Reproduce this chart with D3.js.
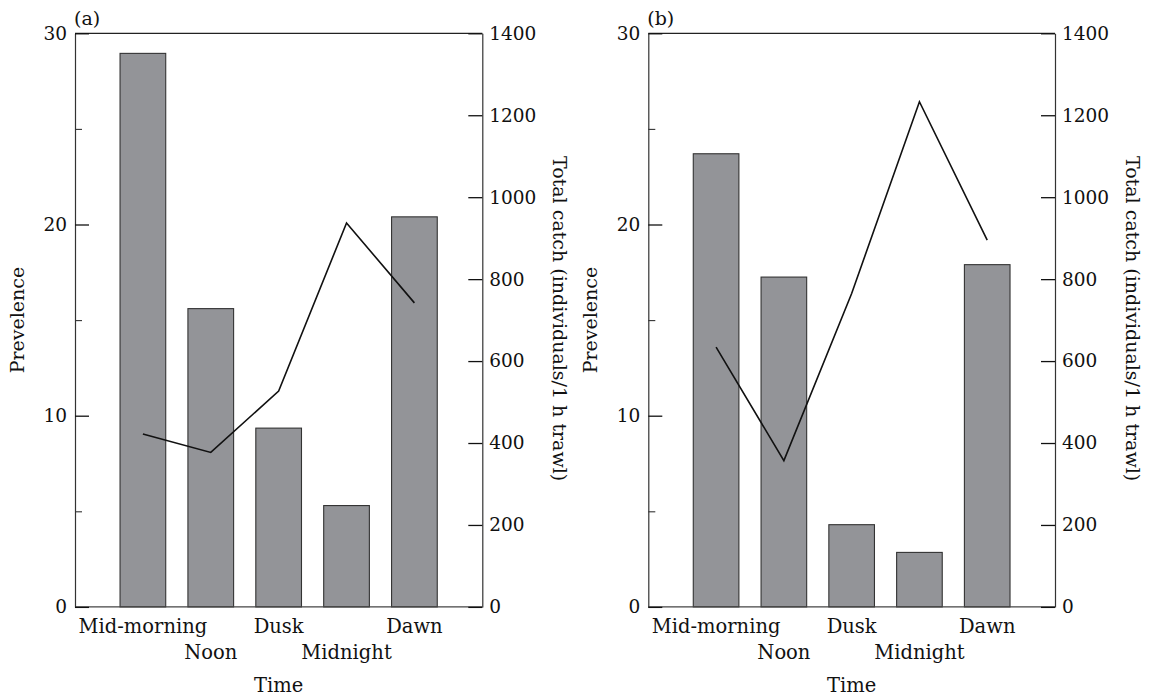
<!DOCTYPE html>
<html>
<head>
<meta charset="utf-8">
<script src="https://cdn.jsdelivr.net/npm/d3@7"></script>
<style>
  html, body { margin: 0; padding: 0; background: #fff; }
  svg { display: block; }
  text { font-family: "DejaVu Serif", "Liberation Serif", serif; fill: #111; }
</style>
</head>
<body>
<svg id="chart" width="1153" height="696"></svg>
<script>
// ---- Data ----
const categories = ["Mid-morning", "Noon", "Dusk", "Midnight", "Dawn"];
const panelLabels = ["(a)", "(b)"];
const prevalenceA = [28.95, 15.6, 9.35, 5.3, 20.4];
const catchA = [422, 377, 527, 937, 742];
const prevalenceB = [23.7, 17.25, 4.3, 2.85, 17.9];
const catchB = [634, 357, 765, 1233, 895];
const leftTicks = [0, 10, 20, 30];
const leftMinorTicks = [5, 15, 25];
const rightTicks = [0, 200, 400, 600, 800, 1000, 1200, 1400];
const xTitle = "Time";
const leftTitle = "Prevelence";
const rightTitle = "Total catch (individuals/1 h trawl)";

// ---- Layout ----
const svg = d3.select("#chart");
const plotTop = 33.3, plotBottom = 606.9;
const panels = [
  { x0: 75, x1: 482.3, label: panelLabels[0], bars: prevalenceA, line: catchA },
  { x0: 648.3, x1: 1055, label: panelLabels[1], bars: prevalenceB, line: catchB }
];
const fmt = d3.format("d");

panels.forEach(p => {
  const g = svg.append("g");
  const x = d3.scaleBand().domain(categories).range([p.x0, p.x1])
    .paddingInner(0.327).paddingOuter(0.6635);
  const yL = d3.scaleLinear().domain([0, 30]).range([plotBottom, plotTop]);
  const yR = d3.scaleLinear().domain([0, 1400]).range([plotBottom, plotTop]);

  // bars
  g.selectAll("rect.bar").data(p.bars).join("rect")
    .attr("class", "bar")
    .attr("x", (d, i) => x(categories[i]))
    .attr("y", d => yL(d))
    .attr("width", x.bandwidth())
    .attr("height", d => yL(0) - yL(d))
    .attr("fill", "#939498")
    .attr("stroke", "#333")
    .attr("stroke-width", 1.1);

  // top frame line
  g.append("line")
    .attr("x1", p.x0).attr("x2", p.x1)
    .attr("y1", yL(30)).attr("y2", yL(30))
    .attr("stroke", "#222").attr("stroke-width", 1.2);

  // bottom axis with staggered labels
  const xAxis = g.append("g")
    .attr("transform", `translate(0,${plotBottom})`)
    .call(d3.axisBottom(x).tickSize(0).tickPadding(12.6).tickSizeOuter(0));
  xAxis.select(".domain").attr("stroke", "#444").attr("stroke-width", 1.2)
    .attr("d", `M${p.x0},0H${p.x1}`);
  xAxis.selectAll("text")
    .style("font-family", '"DejaVu Serif", serif')
    .style("font-size", "19.5px")
    .attr("fill", "#111")
    .attr("y", (d, i) => i % 2 === 1 ? 12.6 + 25.7 : 12.6);

  // left axis (inward ticks)
  const lAxis = g.append("g").attr("transform", `translate(${p.x0},0)`)
    .call(d3.axisLeft(yL).tickValues(leftTicks).tickFormat(fmt).tickSize(-14).tickSizeOuter(0).tickPadding(8));
  lAxis.select(".domain").attr("stroke", "#333").attr("stroke-width", 1.2);
  lAxis.selectAll(".tick line").attr("stroke", "#111").attr("stroke-width", 1.3);
  lAxis.selectAll("text").style("font-family", '"DejaVu Serif", serif')
    .style("font-size", "18.5px").attr("fill", "#111");
  const lMinor = g.append("g").attr("transform", `translate(${p.x0},0)`)
    .call(d3.axisLeft(yL).tickValues(leftMinorTicks).tickSize(-7).tickSizeOuter(0).tickFormat(""));
  lMinor.select(".domain").remove();
  lMinor.selectAll(".tick line").attr("stroke", "#333").attr("stroke-width", 1.1);

  // right axis (inward ticks)
  const rAxis = g.append("g").attr("transform", `translate(${p.x1},0)`)
    .call(d3.axisRight(yR).tickValues(rightTicks).tickFormat(fmt).tickSize(-14).tickSizeOuter(0).tickPadding(7));
  rAxis.select(".domain").attr("stroke", "#333").attr("stroke-width", 1.2);
  rAxis.selectAll(".tick line").attr("stroke", "#111").attr("stroke-width", 1.3);
  rAxis.selectAll("text").style("font-family", '"DejaVu Serif", serif')
    .style("font-size", "18.5px").attr("fill", "#111");

  // catch line
  const line = d3.line()
    .x((d, i) => x(categories[i]) + x.bandwidth() / 2)
    .y(d => yR(d));
  g.append("path").datum(p.line)
    .attr("d", line)
    .attr("fill", "none")
    .attr("stroke", "#111")
    .attr("stroke-width", 1.6);

  // panel label
  g.append("text").attr("x", p.x0 - 1).attr("y", 25)
    .style("font-size", "19px").text(p.label);

  // x title
  g.append("text")
    .attr("x", (p.x0 + p.x1) / 2).attr("y", 691.7)
    .attr("text-anchor", "middle")
    .style("font-size", "19.5px").text(xTitle);

  // left title
  g.append("text")
    .attr("transform", `translate(${p.x0 - 58},${(plotTop + plotBottom) / 2}) rotate(-90)`)
    .attr("text-anchor", "middle")
    .attr("dominant-baseline", "central")
    .style("font-size", "19px").text(leftTitle);

  // right title
  g.append("text")
    .attr("transform", `translate(${p.x1 + 78},${(plotTop + plotBottom) / 2 - 1.5}) rotate(90)`)
    .attr("text-anchor", "middle")
    .attr("dominant-baseline", "central")
    .style("font-size", "19px").text(rightTitle);
});
</script>
</body>
</html>
